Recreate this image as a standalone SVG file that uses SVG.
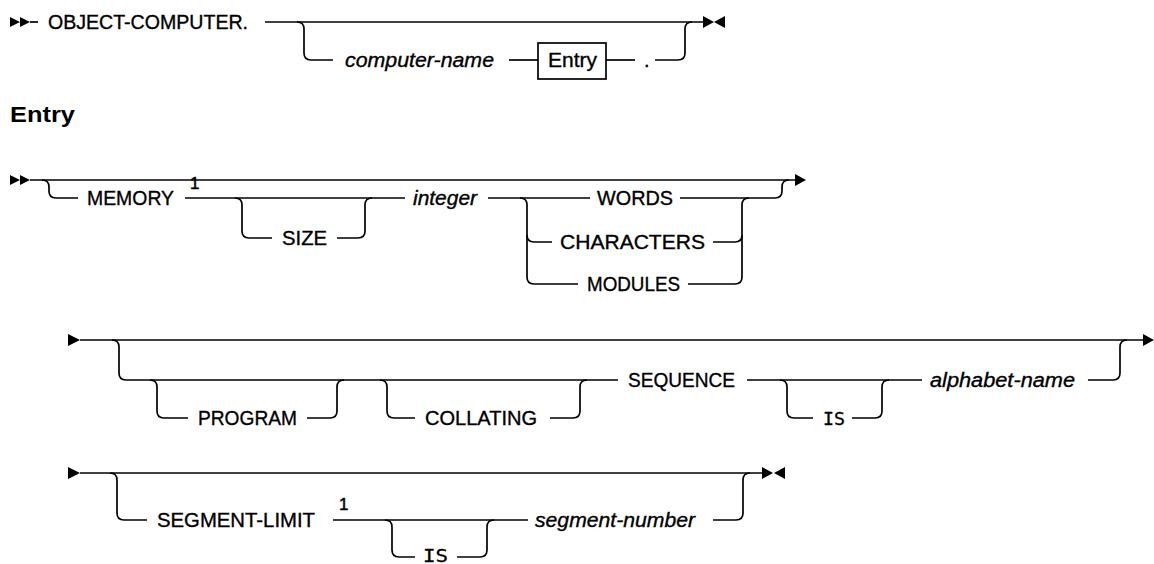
<svg xmlns="http://www.w3.org/2000/svg" width="1154" height="564" viewBox="0 0 1154 564">
<style>
.l{fill:none;stroke:#000;stroke-width:1.7}
.t{font-family:"Liberation Sans",Arial,sans-serif;font-size:20px;fill:#000;stroke:#000;stroke-width:0.35}
.i{font-family:"Liberation Sans",Arial,sans-serif;font-size:20px;font-style:italic;fill:#000;stroke:#000;stroke-width:0.35}
.m{font-family:"DejaVu Sans Mono",monospace;font-size:17px;fill:#000;stroke:#000;stroke-width:0.3}
.s{font-family:"Liberation Sans",Arial,sans-serif;font-size:17px;fill:#000;stroke:#000;stroke-width:0.5}
.h{font-family:"Liberation Sans",Arial,sans-serif;font-size:22px;font-weight:bold;fill:#000}
.a{fill:#000}
</style>
<rect width="1154" height="564" fill="#fff"/>
<g id="connectors">
  <!-- row 1 -->
  <path class="l" d="M30,22 H38"/>
  <path class="l" d="M265,22 H703"/>
  <path class="l" d="M297,22 Q304,22 304,29 V53 Q304,60 311,60 H333"/>
  <path class="l" d="M509,60 H538"/>
  <path class="l" d="M606,60 H635"/>
  <path class="l" d="M655,60 H678 Q685,60 685,53 V29 Q685,22 692,22"/>
  <!-- row 2 -->
  <path class="l" d="M30,180 H797"/>
  <path class="l" d="M42,180 Q49,180 49,187 V191 Q49,198 56,198 H78"/>
  <path class="l" d="M185,198 H405"/>
  <path class="l" d="M235,198 Q242,198 242,205 V231 Q242,238 249,238 H272"/>
  <path class="l" d="M337,238 H358 Q365,238 365,231 V205 Q365,198 372,198"/>
  <path class="l" d="M488,198 H590"/>
  <path class="l" d="M520,198 Q527,198 527,205 V277 Q527,284 534,284 H578"/>
  <path class="l" d="M527,235 Q527,242 534,242 H552"/>
  <path class="l" d="M680,198 H775 Q782,198 782,191 V187 Q782,180 789,180"/>
  <path class="l" d="M749,198 Q742,198 742,205 V277 Q742,284 735,284 H688"/>
  <path class="l" d="M713,242 H735 Q742,242 742,235"/>
  <!-- row 3 -->
  <path class="l" d="M80,340 H1147"/>
  <path class="l" d="M112,340 Q119,340 119,347 V373 Q119,380 126,380 H618"/>
  <path class="l" d="M150,380 Q157,380 157,387 V411 Q157,418 164,418 H188"/>
  <path class="l" d="M307,418 H330 Q337,418 337,411 V387 Q337,380 344,380"/>
  <path class="l" d="M380,380 Q387,380 387,387 V411 Q387,418 394,418 H415"/>
  <path class="l" d="M550,418 H573 Q580,418 580,411 V387 Q580,380 587,380"/>
  <path class="l" d="M747,380 H922"/>
  <path class="l" d="M780,380 Q787,380 787,387 V411 Q787,418 794,418 H813"/>
  <path class="l" d="M852,418 H875 Q882,418 882,411 V387 Q882,380 889,380"/>
  <path class="l" d="M1088,380 H1113 Q1120,380 1120,373 V347 Q1120,340 1127,340"/>
  <!-- row 4 -->
  <path class="l" d="M80,473 H762"/>
  <path class="l" d="M110,473 Q117,473 117,480 V513 Q117,520 124,520 H147"/>
  <path class="l" d="M333,520 H528"/>
  <path class="l" d="M385,520 Q392,520 392,527 V550 Q392,557 399,557 H415"/>
  <path class="l" d="M457,557 H480 Q487,557 487,550 V527 Q487,520 494,520"/>
  <path class="l" d="M713,520 H736 Q743,520 743,513 V480 Q743,473 750,473"/>
  <!-- markers -->
  <path class="a" d="M10,17 L20,22 L10,27 Z M20,17 L30,22 L20,27 Z"/>
  <path class="a" d="M703,16 L714,22 L703,28 Z M725,16 L714,22 L725,28 Z"/>
  <path class="a" d="M10,175 L20,180 L10,185 Z M20,175 L30,180 L20,185 Z"/>
  <path class="a" d="M795,174 L806,180 L795,186 Z"/>
  <path class="a" d="M68,334 L80,340 L68,346 Z"/>
  <path class="a" d="M1143,334 L1154,340 L1143,346 Z"/>
  <path class="a" d="M68,467 L80,473 L68,479 Z"/>
  <path class="a" d="M762,467 L773,473 L762,479 Z M785,467 L774,473 L785,479 Z"/>
</g>
<g id="n-object-computer"><text class="t" x="48" y="29" textLength="200" lengthAdjust="spacingAndGlyphs">OBJECT-COMPUTER.</text></g>
<g id="n-computer-name"><text class="i" x="345" y="67" textLength="149" lengthAdjust="spacingAndGlyphs">computer-name</text></g>
<g id="n-entry-box"><rect x="538" y="43" width="68" height="36" fill="#fff" stroke="#000" stroke-width="1.7"/><text class="t" x="548" y="67" textLength="49" lengthAdjust="spacingAndGlyphs">Entry</text></g>
<g id="n-period"><text class="t" x="644" y="67">.</text></g>
<g id="n-entry-heading"><text class="h" x="10" y="122" textLength="65" lengthAdjust="spacingAndGlyphs">Entry</text></g>
<g id="n-memory"><text class="t" x="87" y="205" textLength="87" lengthAdjust="spacingAndGlyphs">MEMORY</text><text class="s" x="190" y="189">1</text></g>
<g id="n-size"><text class="t" x="282" y="245" textLength="45" lengthAdjust="spacingAndGlyphs">SIZE</text></g>
<g id="n-integer"><text class="i" x="413" y="205" textLength="64" lengthAdjust="spacingAndGlyphs">integer</text></g>
<g id="n-words"><text class="t" x="597" y="205" textLength="76" lengthAdjust="spacingAndGlyphs">WORDS</text></g>
<g id="n-characters"><text class="t" x="560" y="249" textLength="145" lengthAdjust="spacingAndGlyphs">CHARACTERS</text></g>
<g id="n-modules"><text class="t" x="587" y="291" textLength="93" lengthAdjust="spacingAndGlyphs">MODULES</text></g>
<g id="n-program"><text class="t" x="198" y="425" textLength="99" lengthAdjust="spacingAndGlyphs">PROGRAM</text></g>
<g id="n-collating"><text class="t" x="425" y="425" textLength="112" lengthAdjust="spacingAndGlyphs">COLLATING</text></g>
<g id="n-sequence"><text class="t" x="628" y="387" textLength="107" lengthAdjust="spacingAndGlyphs">SEQUENCE</text></g>
<g id="n-is1"><text class="m" x="823" y="425" textLength="22" lengthAdjust="spacingAndGlyphs">IS</text></g>
<g id="n-alphabet-name"><text class="i" x="930" y="387" textLength="145" lengthAdjust="spacingAndGlyphs">alphabet-name</text></g>
<g id="n-segment-limit"><text class="t" x="157" y="527" textLength="158" lengthAdjust="spacingAndGlyphs">SEGMENT-LIMIT</text><text class="s" x="339" y="510">1</text></g>
<g id="n-is2"><text class="m" x="423" y="562" font-size="16" textLength="25" lengthAdjust="spacingAndGlyphs">IS</text></g>
<g id="n-segment-number"><text class="i" x="535" y="527" textLength="160" lengthAdjust="spacingAndGlyphs">segment-number</text></g>
</svg>
